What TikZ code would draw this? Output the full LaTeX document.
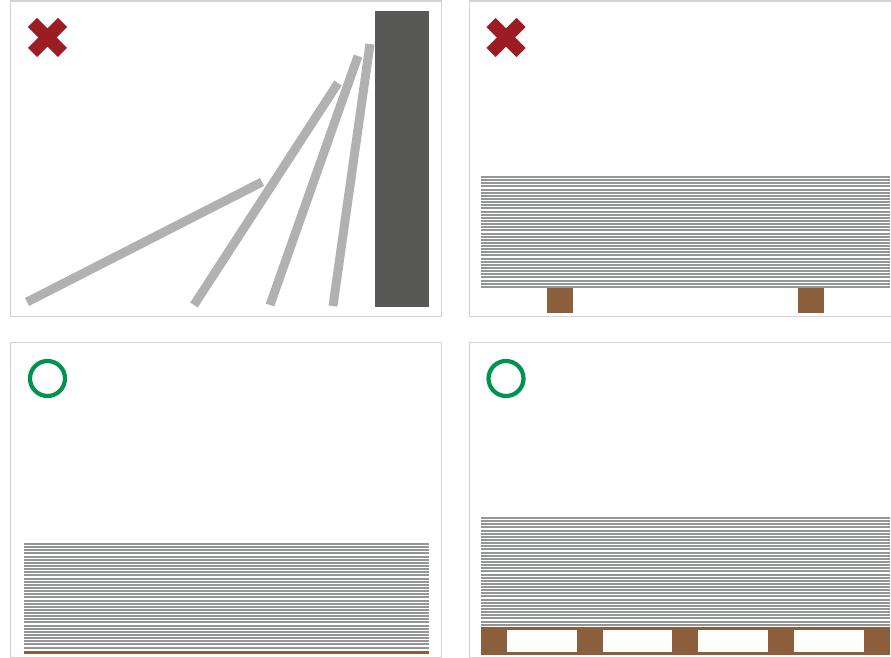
\documentclass[tikz,border=0pt]{standalone}
\usepackage{xcolor}
\definecolor{frameg}{HTML}{D1D3D4}
\definecolor{sheetg}{HTML}{939598}
\definecolor{leang}{HTML}{B1B1B1}
\definecolor{wallg}{HTML}{585857}
\definecolor{woodb}{HTML}{8B5E3C}
\definecolor{badr}{HTML}{9B1C23}
\definecolor{goodg}{HTML}{00924F}

\begin{document}
\begin{tikzpicture}[
    x=0.02cm,y=-0.02cm,
    panel/.style={draw=frameg,line width=0.85pt},
    sheet/.style={draw=sheetg,line width=0.04cm},
    lean/.style={draw=leang,line width=5.1pt},
    wood/.style={fill=woodb},
    cross/.style={draw=badr,line width=7.4pt},
    okring/.style={draw=goodg,line width=2.4pt}
]
\useasboundingbox (0,0) rectangle (891,658);

\draw[panel] (10.5,1) rectangle (441.5,316.5);
\draw[panel] (891,1) -- (469.5,1) -- (469.5,316.5) -- (891,316.5);
\draw[panel] (10.5,342.5) rectangle (441.5,657.5);
\draw[panel] (891,342.5) -- (469.5,342.5) -- (469.5,657.5) -- (891,657.5);

\fill[wallg] (375,11) rectangle (429,307);
\draw[lean] (27,302) -- (262,182);
\draw[lean] (194,305) -- (338,83);
\draw[lean] (270,305) -- (358,56);
\draw[lean] (333,306) -- (370,44);

\draw[cross] (32.5,22.5) -- (62.5,52.5);
\draw[cross] (62.5,22.5) -- (32.5,52.5);
\draw[cross] (491,22.5) -- (521,52.5);
\draw[cross] (521,22.5) -- (491,52.5);
\draw[okring] (47.5,378.5) circle (17.5);
\draw[okring] (506,378.5) circle (17.5);

\foreach \i in {0,...,35} {
    \pgfmathsetmacro\yy{round(177+3.14*\i)}
    \draw[sheet] (481,\yy) -- (890,\yy);
}
\fill[wood] (547,288) rectangle (573,313);
\fill[wood] (798,288) rectangle (824,313);

\foreach \i in {0,...,33} {
    \pgfmathsetmacro\yy{round(544+3.14*\i)}
    \draw[sheet] (24,\yy) -- (429,\yy);
}
\fill[wood] (24,651) rectangle (429,654);

\foreach \i in {0,...,34} {
    \pgfmathsetmacro\yy{round(518+3.14*\i)}
    \draw[sheet] (481,\yy) -- (890,\yy);
}
\fill[wood] (481,627) rectangle (890,655);
\foreach \xa/\xb in {507/577,603/672,698/768,794/864} {
    \fill[white] (\xa,630) rectangle (\xb,652);
}
\end{tikzpicture}
\end{document}
